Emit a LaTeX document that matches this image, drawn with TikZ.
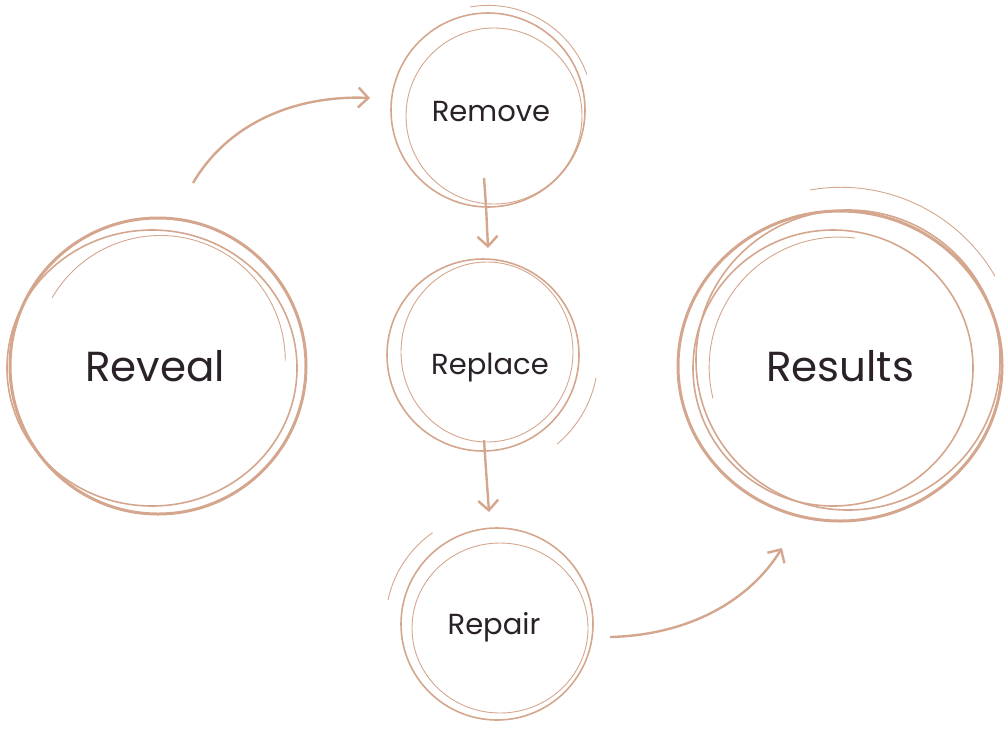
\documentclass[tikz,border=0pt]{standalone}
\usepackage{fontspec}
\setmainfont{Poppins}
\usetikzlibrary{arrows.meta}
\definecolor{sk}{HTML}{D4A68E}
\definecolor{tx}{HTML}{2A2228}
\begin{document}
\begin{tikzpicture}[x=1pt,y=-1pt,
 thick1/.style={draw=sk,line width=3pt},
 thin1/.style={draw=sk,line width=1.6pt},
 hair/.style={draw=sk,line width=0.9pt},
 lbl/.style={text=tx,font=\fontsize{29}{34}\selectfont},
 big/.style={text=tx,font=\fontsize{42}{48}\selectfont},
 arr/.style={draw=sk,line width=2.4pt,-{Straight Barb[length=10pt,width=20pt]}}]
\useasboundingbox (0,0) rectangle (1008,745);
% Reveal
\draw[thick1] (158,366) circle (148);
\draw[thin1] (152,368) ellipse (145 and 138);
\draw[hair] (52,298) arc[start angle=-150,end angle=0,radius=125];
\node[big] (reveal) at (155,366) {Reveal};
% Remove
\draw[thin1] (488,110) circle (97);
\draw[hair] (494,116) circle (88);
\draw[hair] (470,7) arc[start angle=-100,end angle=-20,radius=105];
\node[lbl] (remove) at (491,112) {Remove};
% Replace
\draw[thin1] (483,355) circle (96);
\draw[hair] (487,352) ellipse (86 and 90);
\draw[hair] (596,378) arc[start angle=11,end angle=50,radius=115];
\node[lbl] (replace) at (490,368) {Replace};
% Repair
\draw[thin1] (497,624) circle (96);
\draw[hair] (500,628) ellipse (88 and 85);
\draw[hair] (388,600) arc[start angle=192,end angle=235,radius=110];
\node[lbl] (repair) at (494,627) {Repair};
% Results
\draw[thick1] (840,366) ellipse (162 and 155);
\draw[thin1] (848,360) ellipse (152 and 150);
\draw[thin1] (833,368) ellipse (140 and 138);
\draw[hair] (810,190) arc[start angle=-100,end angle=-30,radius=178];
\draw[hair] (855,238) arc[start angle=-83,end angle=-194,radius=130];
\node[big] (results) at (840,366) {Results};
% arrows
\coordinate (a1s) at (193,183); \coordinate (a1e) at (370,98);
\coordinate (a2s) at (484,178); \coordinate (a2e) at (488,248);
\coordinate (a3s) at (484,440); \coordinate (a3e) at (489,512);
\coordinate (a4s) at (610,637); \coordinate (a4e) at (782,548);
\draw[arr] (a1s) .. controls (230,120) and (300,95) .. (a1e);
\draw[arr] (a2s) .. controls (486,205) .. (a2e);
\draw[arr] (a3s) .. controls (486,470) .. (a3e);
\draw[arr] (a4s) .. controls (690,635) and (750,600) .. (a4e);
\end{tikzpicture}
\end{document}
